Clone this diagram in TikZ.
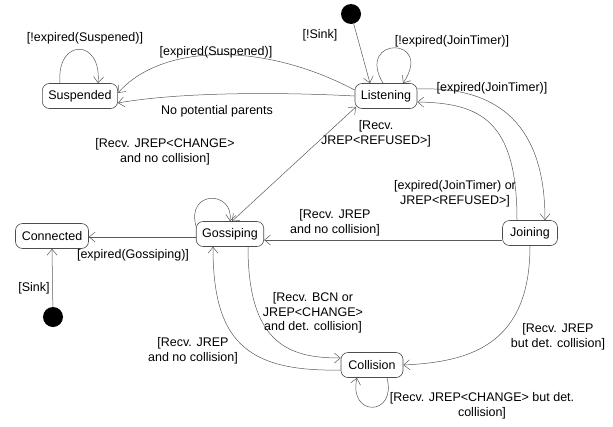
\documentclass[tikz,border=0pt]{standalone}
\usepackage{fontspec}
\setmainfont{Liberation Sans}
\usetikzlibrary{arrows.meta}
\tikzset{
  st/.style={draw=black!70, rounded corners=7pt, minimum height=25pt, inner xsep=6pt, inner ysep=2pt, line width=0.6pt, fill=white},
  init/.style={circle, fill=black, minimum size=20pt, inner sep=0pt},
  tr/.style={draw=black!65, line width=0.5pt, -{Straight Barb[length=6pt,width=10pt]}},
  lbl/.style={align=center, inner sep=0pt, font=\fontsize{12.5}{14.5}\selectfont},
}
\begin{document}
\begin{tikzpicture}[x=1pt,y=-1pt, every node/.append style={font=\fontsize{12.5}{14.5}\selectfont}]
\useasboundingbox (0,0) rectangle (613,426);
% states
\node[st, minimum width=75pt] (susp) at (80,96) {Suspended};
\node[st, minimum width=62pt] (list) at (386,96) {Listening};
\node[st, minimum width=67pt] (goss) at (230,234) {Gossiping};
\node[st, minimum width=73pt] (conn) at (52,236) {Connected};
\node[st, minimum width=55pt] (join) at (530,233) {Joining};
\node[st, minimum width=62pt] (coll) at (372,365) {Collision};
\node[init] (i1) at (351,14) {};
\node[init] (i2) at (53,317) {};
% Suspended self loop
\draw[tr] ([xshift=-20pt]susp.north) .. controls (56,38) and (102,38) .. ([xshift=18pt]susp.north);
\node[lbl] (l1) at (85,38) {[!expired(Suspened)]};
% Listening -> Suspended (upper)
\draw[tr] ([yshift=6pt]list.west) .. controls (260,40) and (160,45) .. ([yshift=3pt]susp.east);
\node[lbl] (l2) at (216,52) {[expired(Suspened)]};
% Listening -> Suspended (lower)
\draw[tr] (list.west) .. controls (280,92) and (180,92) .. ([yshift=-7pt]susp.east);
\node[lbl] (l3) at (217,111) {No potential parents};
% initial -> Listening
\draw[tr] (i1) -- ([xshift=-16pt]list.north);
\node[lbl] (l4) at (320,35) {[!Sink]};
% Listening self loop
\draw[tr] ([xshift=-3pt]list.north) .. controls (355,36) and (435,36) .. ([xshift=17pt]list.north);
\node[lbl] (l5) at (452,41) {[!expired(JoinTimer)]};
% Listening -> Joining
\draw[tr] ([yshift=7pt]list.east) .. controls (520,85) and (545,150) .. ([xshift=15pt]join.north);
\node[lbl] (l6) at (492,88) {[expired(JoinTimer)]};
% Joining -> Listening
\draw[tr] ([xshift=-13pt]join.north) .. controls (517,120) and (480,103) .. ([yshift=-6pt]list.east);
\node[lbl] (l7) at (455,194) {[expired(JoinTimer) or\\JREP<REFUSED>]};
% Gossiping <-> Listening
\draw[tr, {Straight Barb[length=6pt,width=10pt]}-{Straight Barb[length=6pt,width=10pt]}] ([xshift=2pt]goss.north) -- ([xshift=-30pt,yshift=2pt]list.south);
\node[lbl] (l8) at (376,134) {[Recv.\\JREP<REFUSED>]};
% Gossiping self loop
\draw[tr] ([xshift=-34pt,yshift=-5pt]goss.north) .. controls (186,190) and (234,190) .. ([xshift=0pt]goss.north);
\node[lbl] (l9) at (165,152) {[Recv. JREP<CHANGE>\\and no collision]};
% Joining -> Gossiping
\draw[tr] ([yshift=-7pt]join.west) -- ([yshift=-6pt]goss.east);
\node[lbl] (l10) at (335,223) {[Recv. JREP\\and no collision]};
% Gossiping -> Connected
\draw[tr] ([yshift=-3pt]goss.west) -- ([yshift=-1pt]conn.east);
\node[lbl] (l11) at (133,255) {[expired(Gossiping)]};
% dot -> Connected
\draw[tr] (i2) -- (conn.south);
\node[lbl] (l12) at (34,288) {[Sink]};
% Gossiping -> Collision
\draw[tr] ([xshift=18pt]goss.south) .. controls (248,345) and (290,358) .. ([yshift=7pt]coll.west);
\node[lbl] (l13) at (313,313) {[Recv. BCN or\\JREP<CHANGE>\\and det. collision]};
% Collision -> Gossiping
\draw[tr] ([yshift=-5pt]coll.west) .. controls (245,372) and (213,340) .. ([xshift=-17pt]goss.south);
\node[lbl] (l14) at (193,351) {[Recv. JREP\\and no collision]};
% Joining -> Collision
\draw[tr] (join.south) .. controls (530,345) and (470,362) .. (coll.east);
\node[lbl] (l15) at (558,337) {[Recv. JREP\\but det. collision]};
% Collision self loop
\draw[tr] ([xshift=15pt]coll.south) .. controls (397,417) and (348,417) .. ([xshift=-15pt]coll.south);
\node[lbl] (l16) at (482,406) {[Recv. JREP<CHANGE> but det.\\collision]};
\end{tikzpicture}
\end{document}
